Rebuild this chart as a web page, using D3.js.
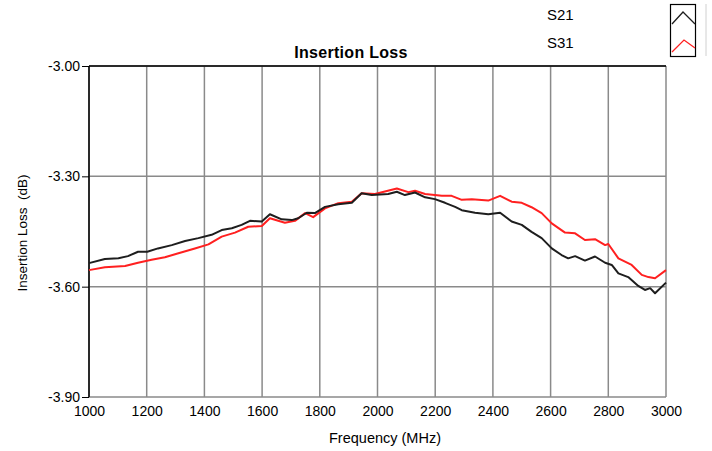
<!DOCTYPE html>
<html><head><meta charset="utf-8">
<script src="https://cdn.jsdelivr.net/npm/d3@7"></script>
<style>body{margin:0;background:#fff}svg{display:block}text{font-family:"Liberation Sans",Arial,sans-serif}</style>
</head><body>
<svg id="c" width="712" height="451"></svg>
<script>
const freqS21 = [1000,1055,1102,1135,1170,1202,1239,1287,1333,1379,1425,1460,1495,1529,1558,1599,1627,1668,1703,1725,1755,1783,1818,1864,1911,1945,1980,2037,2067,2095,2130,2165,2199,2234,2269,2292,2338,2384,2425,2465,2500,2534,2569,2604,2638,2661,2685,2719,2754,2789,2812,2835,2869,2904,2927,2945,2962,3000];
const s21 = [-3.536,-3.525,-3.523,-3.517,-3.505,-3.505,-3.496,-3.487,-3.476,-3.468,-3.459,-3.446,-3.441,-3.432,-3.421,-3.423,-3.403,-3.417,-3.419,-3.414,-3.399,-3.400,-3.383,-3.376,-3.372,-3.346,-3.351,-3.348,-3.342,-3.351,-3.344,-3.357,-3.362,-3.372,-3.383,-3.392,-3.399,-3.403,-3.399,-3.423,-3.432,-3.451,-3.468,-3.496,-3.514,-3.523,-3.517,-3.529,-3.518,-3.535,-3.541,-3.564,-3.574,-3.598,-3.609,-3.604,-3.618,-3.589];
const freqS31 = [1000,1055,1125,1170,1217,1263,1310,1367,1414,1460,1506,1552,1599,1627,1679,1714,1749,1777,1818,1864,1911,1945,1991,2067,2107,2130,2165,2223,2257,2292,2327,2384,2425,2465,2500,2534,2569,2604,2650,2685,2719,2754,2789,2800,2835,2881,2916,2939,2962,3000];
const s31 = [-3.555,-3.547,-3.544,-3.535,-3.527,-3.520,-3.509,-3.496,-3.485,-3.464,-3.453,-3.437,-3.435,-3.414,-3.426,-3.421,-3.400,-3.411,-3.387,-3.373,-3.369,-3.346,-3.348,-3.333,-3.343,-3.339,-3.348,-3.353,-3.353,-3.364,-3.362,-3.366,-3.353,-3.369,-3.372,-3.384,-3.400,-3.428,-3.453,-3.455,-3.473,-3.471,-3.487,-3.484,-3.523,-3.541,-3.568,-3.574,-3.577,-3.555];
const xTicks = [1000,1200,1400,1600,1800,2000,2200,2400,2600,2800,3000];
const yTicks = [-3.00,-3.30,-3.60,-3.90];
const seriesNames = ["S21","S31"];
const seriesColors = ["#1e1e1e","#ff2020"];

const svg = d3.select("#c");
const L=89,R=666,T=66,B=397;
const x = d3.scaleLinear().domain([1000,3000]).range([L,R]);
const y = d3.scaleLinear().domain([-3.90,-3.00]).range([B,T]);
const grid="#8a8a8a";
const fmtY = d => d3.format(".2f")(d).replace("\u2212","-");

// grid
svg.append("g").selectAll("line").data(xTicks).join("line")
  .attr("x1",d=>x(d)).attr("x2",d=>x(d)).attr("y1",T).attr("y2",B)
  .attr("stroke",grid).attr("stroke-width",1.5);
svg.append("g").selectAll("line").data(yTicks).join("line")
  .attr("x1",L).attr("x2",R).attr("y1",d=>y(d)).attr("y2",d=>y(d))
  .attr("stroke",grid).attr("stroke-width",1.5);
svg.append("line").attr("x1",L).attr("x2",R).attr("y1",T).attr("y2",T).attr("stroke","#000").attr("stroke-width",1.5);
svg.append("line").attr("x1",L).attr("x2",L).attr("y1",T).attr("y2",B).attr("stroke","#000").attr("stroke-width",1.5);

// y axis
const ya = svg.append("g").attr("transform",`translate(${L},0)`)
  .call(d3.axisLeft(y).tickValues(yTicks).tickFormat(fmtY).tickSize(7).tickPadding(2));
ya.select(".domain").remove();
ya.selectAll("line").attr("stroke","#000");
ya.selectAll("text").attr("font-size",14).attr("fill","#000").attr("font-family","Liberation Sans, Arial, sans-serif");

// x axis
const xa = svg.append("g").attr("transform",`translate(0,${B})`)
  .call(d3.axisBottom(x).tickValues(xTicks).tickFormat(d3.format("d")).tickSize(0).tickPadding(9));
xa.select(".domain").remove();
xa.selectAll("text").attr("font-size",14).attr("fill","#000").attr("font-family","Liberation Sans, Arial, sans-serif");

// lines
const mk = fr => d3.line().x((d,i)=>x(fr[i])).y(d=>y(d));
svg.append("path").attr("d",mk(freqS31)(s31)).attr("fill","none")
  .attr("stroke",seriesColors[1]).attr("stroke-width",2).attr("stroke-linejoin","round");
svg.append("path").attr("d",mk(freqS21)(s21)).attr("fill","none")
  .attr("stroke",seriesColors[0]).attr("stroke-width",2).attr("stroke-linejoin","round");

// titles
svg.append("text").attr("x",351).attr("y",58).attr("text-anchor","middle")
  .attr("font-size",16).attr("font-weight","bold").attr("letter-spacing",0.3).text("Insertion Loss");
svg.append("text").attr("x",385).attr("y",443).attr("text-anchor","middle")
  .attr("font-size",14.5).text("Frequency (MHz)");
svg.append("text").attr("transform","translate(27,233) rotate(-90)").attr("text-anchor","middle")
  .attr("font-size",13.5).attr("xml:space","preserve").text("Insertion Loss  (dB)");

// legend
seriesNames.forEach((n,i)=>{
  svg.append("text").attr("x",547).attr("y",20+i*28).attr("font-size",15).text(n);
});
svg.append("rect").attr("x",670.5).attr("y",4.5).attr("width",25).attr("height",52)
  .attr("fill","#fff").attr("stroke","#000").attr("stroke-width",1.2);
const carets = [[[672,24],[683,12],[695,24]],[[672,52],[684,40],[695,48]]];
seriesColors.forEach((c,i)=>{
  svg.append("path").attr("d",d3.line()(carets[i]))
    .attr("fill","none").attr("stroke",c).attr("stroke-width",1.3);
});
svg.append("line").attr("x1",706).attr("x2",706).attr("y1",4).attr("y2",56).attr("stroke","#d0d0d0");
</script>
</body></html>
